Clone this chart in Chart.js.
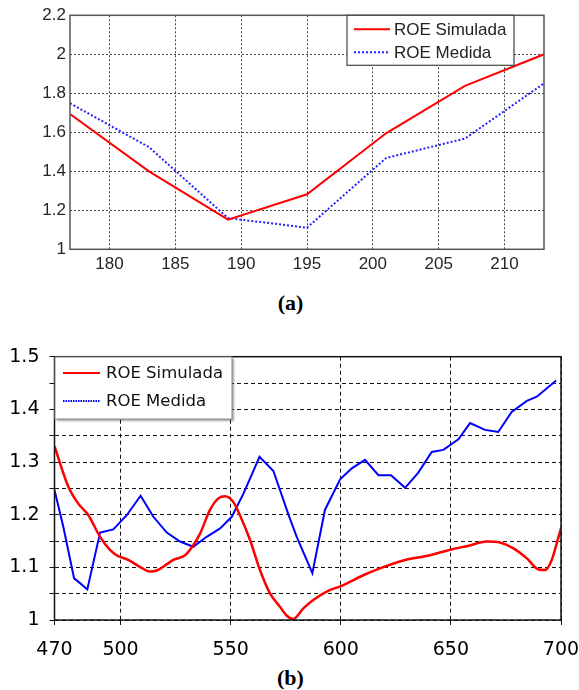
<!DOCTYPE html>
<html>
<head>
<meta charset="utf-8">
<script src="https://cdn.jsdelivr.net/npm/chart.js@4.4.1/dist/chart.umd.min.js"></script>
<style>
  html, body { margin: 0; padding: 0; background: #fff; width: 579px; height: 690px; overflow: hidden; }
  .wrap { position: absolute; left: 0; width: 579px; }
  #wrapA { top: 0; height: 285px; }
  #wrapB { top: 330px; height: 330px; }
  .cap { position: absolute; left: 1px; width: 579px; text-align: center; line-height: 24px;
         font: bold 22px 'Liberation Serif', 'Times New Roman', serif; color: #000; }
</style>
</head>
<body>
<div class="wrap" id="wrapA"><canvas id="chartA"></canvas></div>
<div class="cap" style="top:290px">(a)</div>
<div class="wrap" id="wrapB"><canvas id="chartB"></canvas></div>
<div class="cap" style="top:665px">(b)</div>
<script>
// (a) ROE vs x, 177..213
const aX = [177, 183, 189, 195, 201, 207, 213];
const aSim = [1.694, 1.400, 1.152, 1.282, 1.595, 1.838, 2.0];
const aMed = [1.749, 1.524, 1.160, 1.111, 1.468, 1.568, 1.851];
const aTicksX = [180, 185, 190, 195, 200, 205, 210];
const aTicksY = [1, 1.2, 1.4, 1.6, 1.8, 2, 2.2];

// (b) ROE vs wavelength, 470..700
const bSimX = [470, 476.3, 480.8, 485.4, 490.7, 495.2, 498.2, 503.5, 508.8, 513.4, 516.4, 521, 524, 529.3, 533,
  536.1, 540.6, 544.4, 547.4, 551.2, 554.2, 558.8, 563.3, 567.8, 572.4, 575.5, 578.4, 583, 587.5, 593.6, 600.4,
  610.2, 617.8, 628.4, 640.5, 650.1, 657.2, 666.3, 672.3, 678.4, 684.5, 689.8, 692.8, 695.8, 698.1, 700];
const bSimY = [1.330, 1.253, 1.221, 1.199, 1.158, 1.133, 1.123, 1.114, 1.101, 1.092, 1.094, 1.106, 1.114, 1.123, 1.142,
  1.164, 1.209, 1.231, 1.235, 1.224, 1.199, 1.152, 1.095, 1.051, 1.025, 1.008, 1.002, 1.022, 1.038, 1.054, 1.065,
  1.085, 1.098, 1.113, 1.123, 1.134, 1.140, 1.149, 1.147, 1.136, 1.117, 1.096, 1.095, 1.114, 1.146, 1.174];
const bMedX = [470, 474, 478.9, 481.6, 484.9, 490.7, 496.7, 502.8, 509.1, 514.9, 521, 527, 533, 539.1, 545.2, 550.5,
  555.8, 563.1, 569.4, 576.6, 580, 587.1, 592.8, 599.7, 605, 611, 617.1, 622.8, 629.2, 635.2, 641.3, 646.6, 653.4,
  658.7, 665.5, 671.5, 677.6, 684.5, 689, 697.8];
const bMedY = [1.247, 1.177, 1.079, 1.070, 1.058, 1.166, 1.172, 1.199, 1.236, 1.196, 1.166, 1.149, 1.139, 1.158, 1.174, 1.196,
  1.240, 1.310, 1.283, 1.196, 1.158, 1.089, 1.209, 1.267, 1.288, 1.304, 1.275, 1.275, 1.251, 1.280, 1.319, 1.323, 1.343,
  1.374, 1.361, 1.357, 1.395, 1.416, 1.424, 1.455];
const bTicksX = [470, 500, 550, 600, 650, 700];
const bTicksY = [1, 1.05, 1.1, 1.15, 1.2, 1.25, 1.3, 1.35, 1.4, 1.45, 1.5];

const pts = (xs, ys) => xs.map((x, i) => ({ x, y: ys[i] }));
const fmt = v => String(+Number(v).toFixed(2));

// plot frame on all four sides
const framePlugin = {
  id: 'frame',
  afterDatasetsDraw(chart, args, o) {
    const { ctx, chartArea: a } = chart;
    ctx.save();
    ctx.strokeStyle = o.color;
    ctx.lineWidth = o.width;
    ctx.strokeRect(a.left, a.top, a.right - a.left, a.bottom - a.top);
    ctx.restore();
  }
};

// boxed legend placed inside the plot
const boxLegend = {
  id: 'boxLegend',
  afterDraw(chart, args, o) {
    const ctx = chart.ctx;
    ctx.save();
    if (o.shadow) {
      ctx.shadowColor = 'rgba(0,0,0,0.35)';
      ctx.shadowOffsetX = 2; ctx.shadowOffsetY = 2; ctx.shadowBlur = 2;
    }
    ctx.fillStyle = '#fff';
    ctx.fillRect(o.x, o.y, o.w, o.h);
    ctx.shadowColor = 'transparent';
    ctx.strokeStyle = o.borderColor;
    ctx.lineWidth = o.borderWidth;
    ctx.strokeRect(o.x, o.y, o.w, o.h);
    chart.data.datasets.forEach((ds, i) => {
      const y = o.y + o.firstRow + i * o.rowH;
      ctx.strokeStyle = ds.borderColor;
      ctx.lineWidth = o.sampleWidth;
      ctx.setLineDash(o.dashes[i]);
      ctx.beginPath();
      ctx.moveTo(o.x + o.lineStart, y);
      ctx.lineTo(o.x + o.lineStart + o.lineLen, y);
      ctx.stroke();
      ctx.setLineDash([]);
      ctx.fillStyle = o.textColor;
      ctx.font = o.font;
      ctx.textBaseline = 'middle';
      ctx.fillText(ds.label, o.x + o.textStart, y + 1);
    });
    ctx.restore();
  }
};

const sansA = "'Liberation Sans', Arial, sans-serif";
const sansB = "'DejaVu Sans', Verdana, sans-serif";

new Chart(document.getElementById('chartA'), {
  type: 'line',
  data: {
    datasets: [
      { label: 'ROE Simulada', data: pts(aX, aSim), borderColor: '#ff0000', borderWidth: 2, pointRadius: 0, tension: 0 },
      { label: 'ROE Medida', data: pts(aX, aMed), borderColor: '#2222ff', borderWidth: 2, borderDash: [2, 2], pointRadius: 0, tension: 0 },
    ]
  },
  plugins: [framePlugin, boxLegend],
  options: {
    responsive: true, maintainAspectRatio: false, animation: false, devicePixelRatio: 1,
    layout: { padding: { top: 15.3, right: 35, left: 0, bottom: 0 } },
    plugins: {
      legend: { display: false }, tooltip: { enabled: false },
      frame: { color: '#555', width: 1.5 },
      boxLegend: {
        x: 347, y: 15.3, w: 167, h: 50, firstRow: 14, rowH: 23, lineStart: 7, lineLen: 36, textStart: 47,
        sampleWidth: 2, dashes: [[], [2, 2]], borderColor: '#444', borderWidth: 1.2,
        textColor: '#222', font: "17px " + sansA, shadow: false
      }
    },
    scales: {
      x: {
        type: 'linear', min: 177, max: 213,
        afterBuildTicks: s => { s.ticks = aTicksX.map(v => ({ value: v })); },
        afterFit: s => { s.height = 35.7; },
        grid: { color: '#444', lineWidth: 1, drawTicks: false },
        border: { display: false, dash: [2, 2] },
        ticks: { color: '#262626', padding: 5, maxRotation: 0, autoSkip: false, font: { family: sansA, size: 17 }, callback: fmt }
      },
      y: {
        type: 'linear', min: 1, max: 2.2,
        afterBuildTicks: s => { s.ticks = aTicksY.map(v => ({ value: v })); },
        afterFit: s => { s.width = 70; },
        grid: { color: '#444', lineWidth: 1, drawTicks: false },
        border: { display: false, dash: [2, 2] },
        ticks: { color: '#262626', padding: 4, autoSkip: false, font: { family: sansA, size: 17 }, callback: fmt }
      }
    }
  }
});

new Chart(document.getElementById('chartB'), {
  type: 'line',
  data: {
    datasets: [
      { label: 'ROE Simulada', data: pts(bSimX, bSimY), borderColor: '#ff0000', borderWidth: 2.5, pointRadius: 0, cubicInterpolationMode: 'monotone' },
      { label: 'ROE Medida', data: pts(bMedX, bMedY), borderColor: '#0000ff', borderWidth: 2, pointRadius: 0, tension: 0 },
    ]
  },
  plugins: [framePlugin, boxLegend],
  options: {
    responsive: true, maintainAspectRatio: false, animation: false, devicePixelRatio: 1,
    layout: { padding: { top: 26.7, right: 18, left: 0, bottom: 0 } },
    plugins: {
      legend: { display: false }, tooltip: { enabled: false },
      frame: { color: '#111', width: 1.5 },
      boxLegend: {
        x: 55, y: 27, w: 177, h: 62, firstRow: 16, rowH: 28, lineStart: 8, lineLen: 37, textStart: 51,
        sampleWidth: 2, dashes: [[], [1.5, 1]], borderColor: '#888', borderWidth: 1,
        textColor: '#111', font: "16.5px " + sansB, shadow: true
      }
    },
    scales: {
      x: {
        type: 'linear', min: 470, max: 700,
        afterBuildTicks: s => { s.ticks = bTicksX.map(v => ({ value: v })); },
        afterFit: s => { s.height = 40; s.paddingLeft = 0; s.paddingRight = 0; },
        grid: { color: '#111', lineWidth: 1, tickLength: 5, tickColor: '#111' },
        border: { display: false, dash: [4, 3] },
        ticks: { color: '#000', padding: 14, maxRotation: 0, autoSkip: false, font: { family: sansB, size: 19 }, callback: fmt }
      },
      y: {
        type: 'linear', min: 1, max: 1.5,
        afterBuildTicks: s => { s.ticks = bTicksY.map(v => ({ value: v })); },
        afterFit: s => { s.width = 54.5; },
        grid: { color: '#111', lineWidth: 1, tickLength: 5, tickColor: '#111' },
        border: { display: false, dash: [4, 3] },
        ticks: {
          color: '#000', padding: 10, autoSkip: false, font: { family: sansB, size: 19 },
          callback: v => (Math.abs(v * 10 - Math.round(v * 10)) < 1e-6 ? fmt(v) : '')
        }
      }
    }
  }
});
</script>
</body>
</html>
